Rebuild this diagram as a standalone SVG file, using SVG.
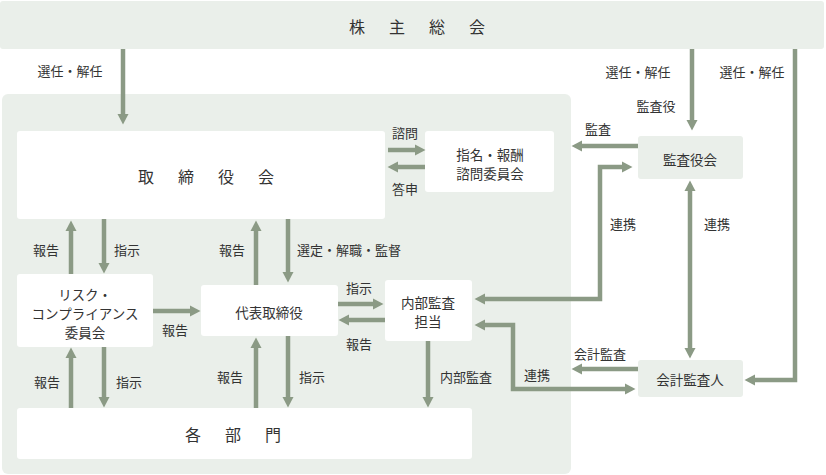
<svg xmlns="http://www.w3.org/2000/svg" width="826" height="475" viewBox="0 0 826 475">
<defs>
<marker id="ah" markerUnits="userSpaceOnUse" markerWidth="11" markerHeight="12" refX="2" refY="6" orient="auto-start-reverse" viewBox="0 0 11 12">
<path d="M0,0.5 L10.5,6 L0,11.5 z" fill="#8b9a85"/>
</marker>
</defs>
<style>
text{font-family:"Noto Sans CJK JP","Noto Sans",sans-serif;fill:#333;text-anchor:middle;dominant-baseline:central}
.lbl{font-size:13px}
.box{font-size:13.5px}
.big{font-size:16px}
.grey{fill:#eaefea}
.white{fill:#fff}
.c{fill:none;stroke:#8b9a85;stroke-width:4.5}
.c1{marker-end:url(#ah)}
.c2{marker-start:url(#ah);marker-end:url(#ah)}
</style>
<rect class="grey" x="2" y="94" width="569" height="380" rx="6"/>

<g id="kabunushi"><rect class="grey" x="0" y="1" width="824" height="48" rx="3"/><text class="big" x="357 397 437 477" y="26">株主総会</text></g>
<g id="torishimariyakukai"><rect class="white" x="17" y="131" width="368" height="88" rx="3"/><text class="big" x="146 186 226 266" y="176">取締役会</text></g>
<g id="shimei"><rect class="white" x="425" y="131" width="129" height="61" rx="3"/><text class="box" x="490" y="154">指名・報酬</text><text class="box" x="490" y="172.5">諮問委員会</text></g>
<g id="kansayakukai"><rect class="grey" x="638" y="136" width="105" height="43" rx="3"/><text class="box" x="690" y="159">監査役会</text></g>
<g id="risk"><rect class="white" x="17" y="274" width="136" height="73" rx="3"/><text class="box" x="85" y="294">リスク・</text><text class="box" x="85" y="313">コンプライアンス</text><text class="box" x="85" y="332">委員会</text></g>
<g id="daihyo"><rect class="white" x="201" y="285" width="137" height="51" rx="3"/><text class="box" x="269" y="312">代表取締役</text></g>
<g id="naibu"><rect class="white" x="385" y="280" width="87" height="61" rx="3"/><text class="box" x="428" y="302">内部監査</text><text class="box" x="428" y="321">担当</text></g>
<g id="kakubumon"><rect class="white" x="17" y="408" width="455" height="51" rx="3"/><text class="big" x="193 233 273" y="434">各部門</text></g>
<g id="kaikei"><rect class="grey" x="638" y="360" width="105" height="37" rx="3"/><text class="box" x="690" y="379">会計監査人</text></g>

<g id="connectors">
<path class="c c1" d="M123,49 V116"/>
<path class="c c1" d="M692,49 V122"/>
<path class="c c1" d="M795,49 V380 H753"/>
<path class="c c1" d="M388,150 H417"/>
<path class="c c1" d="M425,167 H396"/>
<path class="c c1" d="M638,146 H580"/>
<path class="c c2" d="M483,299 H600 V167 H624"/>
<path class="c c2" d="M690,189 V350"/>
<path class="c c1" d="M638,369 H580"/>
<path class="c c2" d="M483,325 H513 V389 H627"/>
<path class="c c1" d="M428,341 V399"/>
<path class="c c1" d="M71,274 V229"/>
<path class="c c1" d="M104,219 V265"/>
<path class="c c1" d="M256,285 V229"/>
<path class="c c1" d="M288,219 V274"/>
<path class="c c1" d="M153,311 H192"/>
<path class="c c1" d="M338,304 H375"/>
<path class="c c1" d="M385,320 H347"/>
<path class="c c1" d="M71,408 V356"/>
<path class="c c1" d="M104,347 V399"/>
<path class="c c1" d="M256,408 V346"/>
<path class="c c1" d="M288,336 V399"/>
</g>

<g id="labels">
<text class="lbl" x="70" y="70">選任・解任</text>
<text class="lbl" x="638" y="71">選任・解任</text>
<text class="lbl" x="752" y="71">選任・解任</text>
<text class="lbl" x="656" y="105">監査役</text>
<text class="lbl" x="598" y="128">監査</text>
<text class="lbl" x="405" y="132">諮問</text>
<text class="lbl" x="405" y="188">答申</text>
<text class="lbl" x="623" y="223">連携</text>
<text class="lbl" x="717" y="223">連携</text>
<text class="lbl" x="46" y="249">報告</text>
<text class="lbl" x="127" y="249">指示</text>
<text class="lbl" x="232" y="249">報告</text>
<text class="lbl" x="349" y="249">選定・解職・監督</text>
<text class="lbl" x="175" y="329">報告</text>
<text class="lbl" x="359" y="287">指示</text>
<text class="lbl" x="359" y="343">報告</text>
<text class="lbl" x="47" y="381">報告</text>
<text class="lbl" x="129" y="381">指示</text>
<text class="lbl" x="230" y="376">報告</text>
<text class="lbl" x="312" y="376">指示</text>
<text class="lbl" x="466" y="376">内部監査</text>
<text class="lbl" x="537" y="374">連携</text>
<text class="lbl" x="600" y="353">会計監査</text>
</g>
</svg>
